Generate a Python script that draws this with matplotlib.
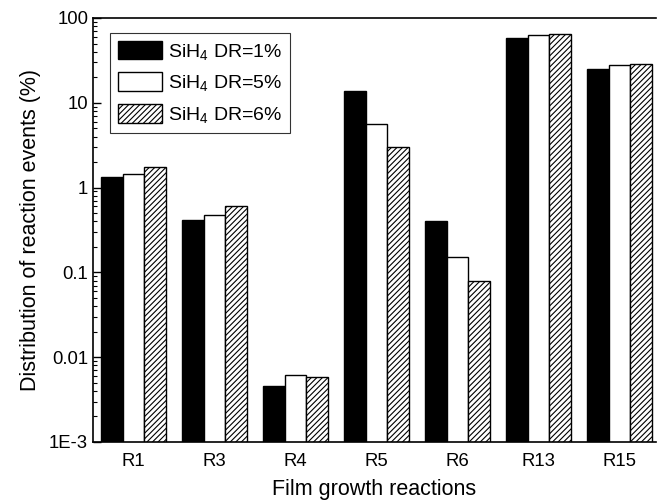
import matplotlib
matplotlib.use("Agg")
import matplotlib.pyplot as plt
import numpy as np
from matplotlib.ticker import LogLocator, FixedLocator, FixedFormatter

plt.rcParams['font.family'] = ['Liberation Sans', 'DejaVu Sans']
plt.rcParams['mathtext.fontset'] = 'custom'
plt.rcParams['mathtext.rm'] = 'Liberation Sans'
plt.rcParams['mathtext.it'] = 'Liberation Sans'
plt.rcParams['hatch.color'] = '#555555'
plt.rcParams['hatch.linewidth'] = 0.8

# data
reactions = ['R1', 'R3', 'R4', 'R5', 'R6', 'R13', 'R15']
dr1 = [1.33, 0.42, 0.0046, 13.9, 0.40, 58.6, 25.2]
dr5 = [1.43, 0.475, 0.0061, 5.6, 0.153, 63.5, 27.9]
dr6 = [1.73, 0.607, 0.0059, 3.04, 0.080, 65.3, 28.9]
series_labels = ['SiH$_4$ DR=1%', 'SiH$_4$ DR=5%', 'SiH$_4$ DR=6%']

fig = plt.figure(figsize=(6.57, 5.03), dpi=100)
ax = fig.add_axes([93 / 657, 1 - 442 / 503, 563 / 657, 424 / 503])

x = np.arange(len(reactions))
w = 0.27
ax.bar(x - w, dr1, w, color='black', edgecolor='black', linewidth=1, label=series_labels[0])
ax.bar(x, dr5, w, color='white', edgecolor='black', linewidth=1, label=series_labels[1])
ax.bar(x + w, dr6, w, color='white', edgecolor='black', linewidth=1, hatch='//////', label=series_labels[2])

ax.set_yscale('log')
ax.set_ylim(1e-3, 100)
ax.set_xlim(-0.5, 6.45)
ax.yaxis.set_major_locator(FixedLocator([1e-3, 1e-2, 1e-1, 1, 10, 100]))
ax.yaxis.set_major_formatter(FixedFormatter(['1E-3', '0.01', '0.1', '1', '10', '100']))
ax.yaxis.set_minor_locator(LogLocator(base=10, subs=np.arange(2, 10)))
ax.tick_params(axis='y', which='major', direction='in', length=6, width=1, labelsize=13.3)
ax.tick_params(axis='y', which='minor', direction='in', length=3, width=0.8)
ax.set_xticks(x)
ax.set_xticklabels(reactions)
ax.tick_params(axis='x', length=0, labelsize=13.3, pad=8)

for s in ax.spines.values():
    s.set_linewidth(1.2)
ax.spines['right'].set_visible(False)

ax.set_xlabel('Film growth reactions', fontsize=15.5, labelpad=6.5)
ax.set_ylabel('Distribution of reaction events (%)', fontsize=15.5, labelpad=6)

leg = ax.legend(loc='upper left', bbox_to_anchor=(0.030, 0.965), fontsize=14,
                frameon=True, fancybox=False, edgecolor='black', handlelength=2.3,
                handleheight=1.1, borderpad=0.4, labelspacing=0.55, handletextpad=0.3,
                borderaxespad=0)
leg.get_frame().set_linewidth(0.8)

fig.savefig('out.png', dpi=100)
